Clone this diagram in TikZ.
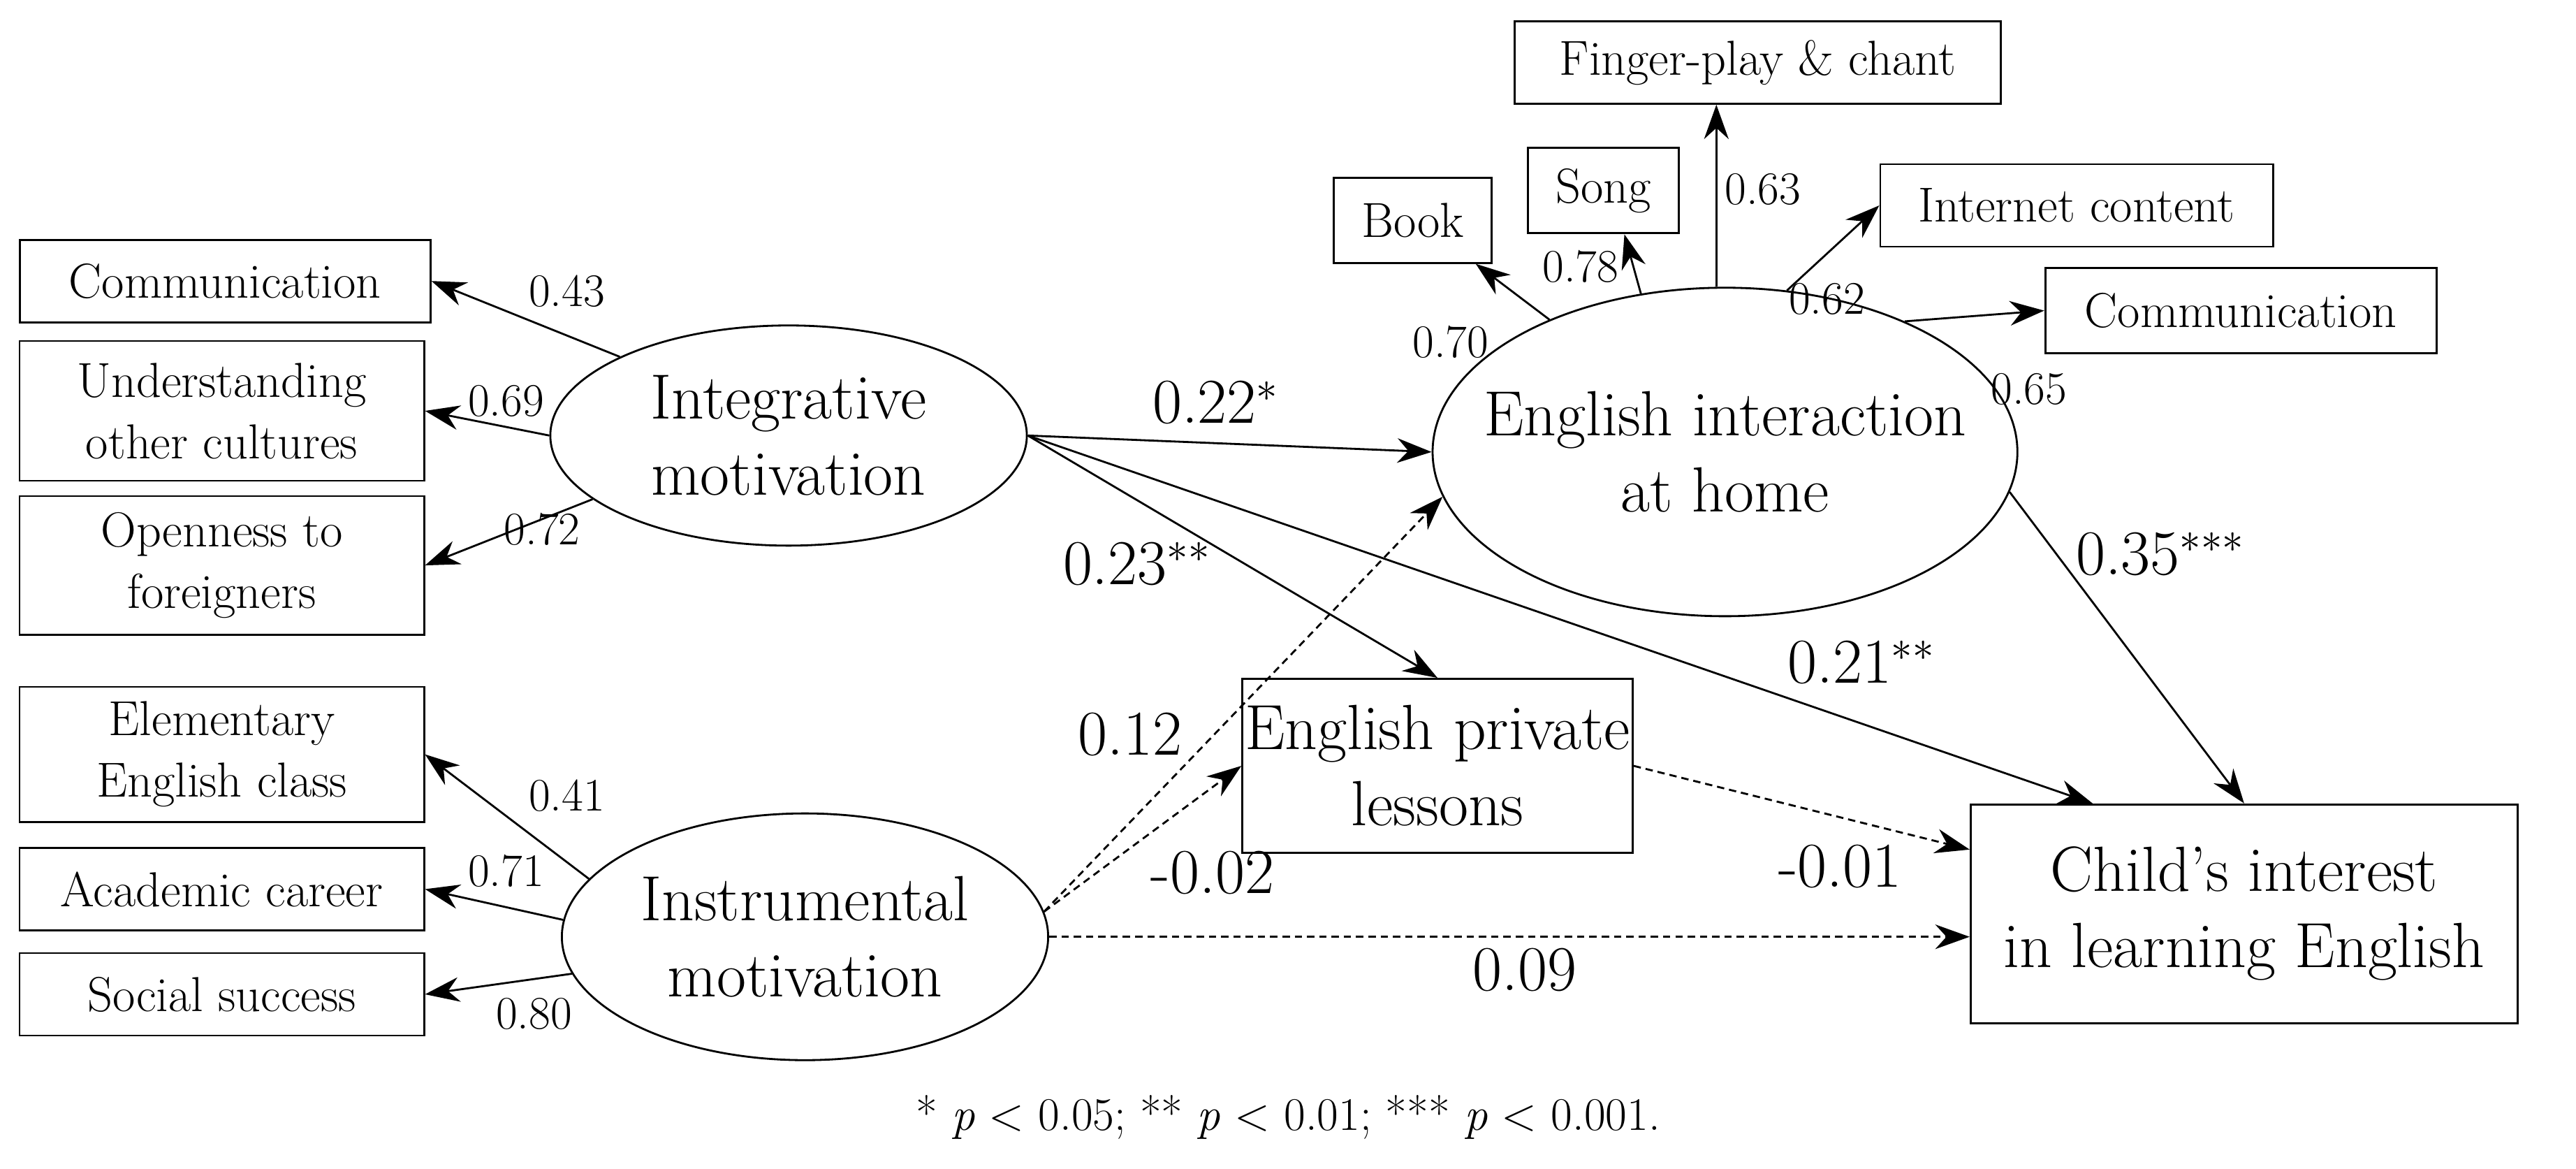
\documentclass[tikz,border=0pt]{standalone}
\usetikzlibrary{shapes.geometric,arrows.meta}
\begin{document}
\begin{tikzpicture}[x=0.02352cm,y=-0.02352cm,
 box/.style={draw,thick,rectangle,align=center,inner sep=1pt,font=\fontsize{20}{25}\selectfont},
 big/.style={draw,thick,rectangle,align=center,inner sep=1pt,font=\fontsize{26}{31}\selectfont},
 ell/.style={draw,thick,ellipse,inner sep=0pt},
 etxt/.style={align=center,font=\fontsize{26}{31}\selectfont},
 arr/.style={thick,-{Stealth[length=14pt,width=10pt]}},
 darr/.style={arr,densely dashed},
 lab/.style={font=\fontsize{19}{23}\selectfont},
 blab/.style={font=\fontsize{26}{31}\selectfont}]
\useasboundingbox (0,0) rectangle (1568,711);
% left boxes
\node[box,minimum width=5.88cm,minimum height=1.18cm] (c1) at (137,171) {Communication};
\node[box,minimum width=5.79cm,minimum height=2.0cm] (uc) at (135,250) {Understanding\\other cultures};
\node[box,minimum width=5.79cm,minimum height=1.98cm] (of) at (135,344) {Openness to\\foreigners};
\node[box,minimum width=5.79cm,minimum height=1.93cm] (ee) at (135,459) {Elementary\\English class};
\node[box,minimum width=5.79cm,minimum height=1.18cm] (ac) at (135,541) {Academic career};
\node[box,minimum width=5.79cm,minimum height=1.18cm] (ss) at (135,605) {Social success};
% ellipses
\node[ell,minimum width=6.82cm,minimum height=3.15cm] (im) at (480,265) {};
\node[etxt] (imt) at (im.center) {Integrative\\motivation};
\node[ell,minimum width=6.96cm,minimum height=3.53cm] (in) at (490,570) {};
\node[etxt] (int) at (in.center) {Instrumental\\motivation};
\node[ell,minimum width=8.37cm,minimum height=4.70cm] (eh) at (1050,275) {};
\node[etxt] (eht) at (eh.center) {English interaction\\at home};
% big boxes
\node[big,minimum width=4.66cm,minimum height=2.49cm] (pl) at (875,466) {English private\\lessons};
\node[big,minimum width=7.83cm,minimum height=3.13cm] (ci) at (1366,556) {Child's interest\\in learning English};
% top boxes
\node[box,minimum width=2.26cm,minimum height=1.22cm] (bk) at (860,134) {Book};
\node[box,minimum width=2.16cm,minimum height=1.22cm] (sg) at (976,116) {Song};
\node[box,minimum width=6.96cm,minimum height=1.18cm] (fp) at (1070,38) {Finger-play \& chant};
\node[box,minimum width=5.62cm,minimum height=1.18cm] (ic) at (1264,125) {Internet content};
\node[box,minimum width=5.60cm,minimum height=1.22cm] (c2) at (1364,189) {Communication};
% loadings
\draw[arr] (im.155) -- (c1.east);
\draw[arr] (im.180) -- (uc.east);
\draw[arr] (im.198) -- (of.east);
\draw[arr] (in.165) -- (ee.east);
\draw[arr] (in.176) -- (ac.east);
\draw[arr] (in.189) -- (ss.east);
\draw[arr] (eh.143) -- ([xshift=0.9cm]bk.south);
\draw[arr] (eh.118) -- ([xshift=0.3cm]sg.south);
\draw[arr] (eh.93) -- (eh.93 |- fp.south);
\draw[arr] (eh.69) -- (ic.west);
\draw[arr] (eh.36) -- (c2.west);
% structural
\draw[arr] (im.east) -- (eh.west);
\draw[arr] (im.east) -- (pl.north);
\draw[arr] (im.east) -- ([xshift=1.76cm]ci.north west);
\draw[arr] (eh.-8) -- (ci.north);
\draw[darr] (in.6) -- (eh.189);
\draw[darr] (in.6) -- (pl.west);
\draw[darr] (in.east) -- (ci.west |- in.east);
\draw[darr] (pl.east) -- ([yshift=-0.66cm]ci.north west);
% labels
\node[lab] at (345,177) {0.43};
\node[lab] at (308,244) {0.69};
\node[lab] at (330,322) {0.72};
\node[lab] at (345,484) {0.41};
\node[lab] at (308,530) {0.71};
\node[lab] at (325,617) {0.80};
\node[lab] at (883,208) {0.70};
\node[lab] at (962,162) {0.78};
\node[lab] at (1073,115) {0.63};
\node[lab] at (1112,182) {0.62};
\node[lab] at (1235,237) {0.65};
\node[blab] at (740,245) {0.22$^{*}$};
\node[blab] at (692,343) {0.23$^{**}$};
\node[blab] at (1315,337) {0.35$^{***}$};
\node[blab] at (1133,403) {0.21$^{**}$};
\node[blab] at (688,447) {0.12};
\node[blab] at (738,531) {-0.02};
\node[blab] at (1120,527) {-0.01};
\node[blab] at (928,590) {0.09};
\node[lab] (fn) at (784,680) {* \textit{p} < 0.05; ** \textit{p} < 0.01; *** \textit{p} < 0.001.};
\end{tikzpicture}
\end{document}
